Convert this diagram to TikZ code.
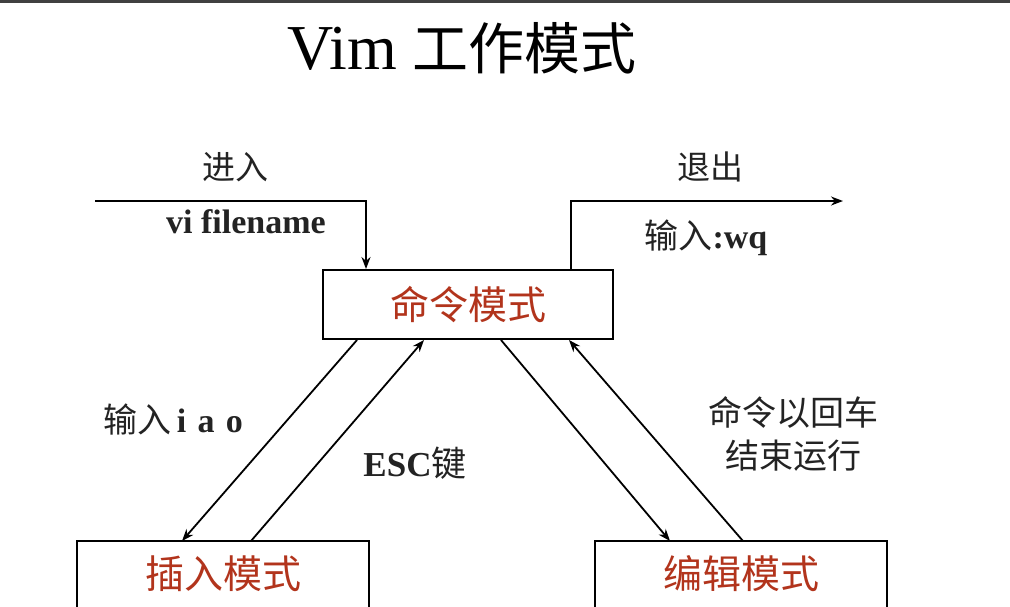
\documentclass[tikz,border=0pt]{standalone}
\usepackage{fontspec}
\setmainfont{Liberation Serif}
\newfontfamily\cjk{Noto Sans CJK SC}
\usetikzlibrary{arrows.meta}
\definecolor{modered}{RGB}{178,52,28}
\definecolor{labelgray}{RGB}{35,35,35}
\def\boxwidth{290pt}

\begin{document}
\begin{tikzpicture}[x=1pt, y=-1pt,
  modebox/.style={line width=2pt, minimum width=\boxwidth, inner sep=0pt,
    font=\cjk\fontsize{39}{44}\selectfont, text=modered},
  link/.style={line width=1.8pt, -{Stealth[length=12pt,width=9pt]}},
  lbl/.style={text=labelgray, inner sep=0pt, font=\fontsize{33}{38}\selectfont}]
  \clip (0,0) rectangle (1010,606);
  \fill [white] (0,0) rectangle (1010,606);
  \fill [black!75] (0,0) rectangle (1010,2.5);

  \node (title) at (462,48) {\fontsize{64}{70}\selectfont Vim {\cjk\fontsize{56}{60}\selectfont 工作模式}};

  % the three modes
  \node [modebox, draw, minimum height=69pt] (cmd) at (468,304.5) {命令模式};
  \node [modebox, minimum height=64pt] (ins) at (223,574) {插入模式};
  \node [modebox, minimum height=64pt] (edt) at (741,574) {编辑模式};
  \draw [line width=2pt] ([yshift=-20pt]ins.south west) |- (ins.north east) -- ([yshift=-20pt]ins.south east);
  \draw [line width=2pt] ([yshift=-20pt]edt.south west) |- (edt.north east) -- ([yshift=-20pt]edt.south east);

  % enter and leave
  \coordinate (enter) at (95,201);
  \coordinate (leave) at (843,201);
  \draw [link] (enter) -| ([xshift=44pt]cmd.north west);
  \draw [link] ([xshift=-43pt]cmd.north east) |- (leave);
  \node [lbl] (enterlbl) at (235,167) {\cjk 进入};
  \node [lbl, font=\bfseries\fontsize{34}{38}\selectfont] (vilbl) at (246,222) {vi filename};
  \node [lbl] (leavelbl) at (710,167) {\cjk 退出};
  \node [lbl, font=\fontsize{34}{38}\selectfont] (wqlbl) at (706,238) {{\cjk 输入}\textbf{:wq}};

  % between the modes
  \draw [link] ([xshift=35pt]cmd.south west) -- ([xshift=105pt]ins.north west);
  \draw [link] ([xshift=174pt]ins.north west) -- ([xshift=102pt]cmd.south west);
  \draw [link] ([xshift=179pt]cmd.south west) -- ([xshift=75pt]edt.north west);
  \draw [link] ([xshift=148pt]edt.north west) -- ([xshift=247pt]cmd.south west);
  \node [lbl, font=\fontsize{34}{38}\selectfont] (iaolbl) at (173,420) {{\cjk 输入}\textbf{\,i\,\,a\,\,o}};
  \node [lbl, font=\fontsize{35}{38}\selectfont] (esclbl) at (415,463) {\textbf{ESC}{\cjk 键}};
  \node [lbl, align=center, font=\cjk\fontsize{34}{43}\selectfont] (runlbl) at (793,434) {命令以回车\\结束运行};

\end{tikzpicture}
\end{document}
